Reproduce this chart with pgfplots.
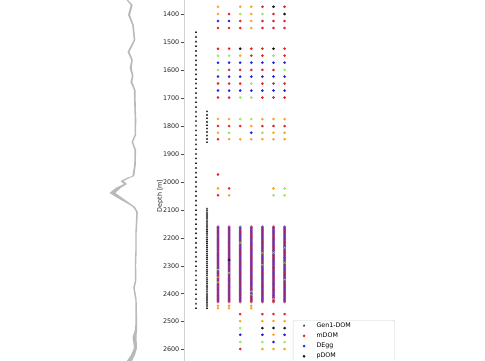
\documentclass[border=0pt]{standalone}
\usepackage{pgfplots}
\pgfplotsset{compat=1.18}
\usepackage{pgfplotstable}
\usepackage{fontspec}
\setmainfont{DejaVu Sans}
\definecolor{mred}{RGB}{228,32,32}
\definecolor{mblue}{RGB}{30,30,230}
\definecolor{morange}{RGB}{245,165,40}
\definecolor{mgreen}{RGB}{150,232,90}
\definecolor{mblack}{RGB}{20,20,20}
\definecolor{dust}{RGB}{185,185,185}
\definecolor{spine}{RGB}{210,210,210}

\pgfplotstableread{
d c1 c2 c3 c4 c5 c6 c7
2160 r r g r r r r
2163 b b b b b b b
2166 r r r r r r r
2169 b b b b b b b
2172 r r r r r r r
2175 b b b b b b b
2178 r r r r r r r
2181 b b b b b b b
2184 r r r r r r r
2187 b b b b b b b
2190 r r r r r r r
2193 b b b b b b b
2196 r r r r r r r
2199 b b b b b b b
2202 r r r r r r r
2205 b b b b b b b
2208 r r r r r r r
2211 b b b b b b b
2214 r r r r r r r
2217 b b b b b b b
2220 r r g r r r r
2223 b b b b b b b
2226 r r r r r r r
2229 b b b b b b b
2232 r r r r r r r
2235 b b b b b b b
2238 r r r r r r g
2241 b b b b b b b
2244 r r r r r r r
2247 b b b b b b b
2250 r r r r r r r
2253 b b b b b b b
2256 r r r r g g r
2259 b b b b b b b
2262 r r r r r r r
2265 b b b b b b b
2268 r r r r r r r
2271 b b b b b b b
2274 r r r r r r r
2277 b b b b b b b
2280 r k r r r r r
2283 b b b b b b b
2286 r r r r r r r
2289 b b b b b b b
2292 r r r r r r g
2295 b b b b b b b
2298 r r r r g r r
2301 b b b b b b b
2304 r r r r r r r
2307 b b b b b b b
2310 r r r r r r r
2313 b b b b b b b
2316 g r r r r r r
2319 b b b b b b b
2322 r r r r r r r
2325 b b b b b b b
2328 r g r r r r r
2331 b b b b b b b
2334 r r r r r r r
2337 b b b b b b b
2340 r r r r r r r
2343 o b b b b b b
2346 r r r r r r r
2349 b b b b b b b
2352 r r r r r r g
2355 b b b b b b b
2358 r r r r r r r
2361 g b b b b b b
2364 r r r r r r r
2367 b b b b b b b
2370 r r r r r r r
2373 b b b b b b b
2376 r r r r r r r
2379 b b b b b b b
2382 r r r r r r r
2385 b b b b b b b
2388 r r r r r r r
2391 b b b b b b b
2394 r r r g r r r
2397 b b b b b b b
2400 r r r r r r r
2403 b b b b b b b
2406 r r r o r r r
2409 b b b b b b b
2412 r r r r r r r
2415 b b b b b b b
2418 r r r r r r r
2421 b b b b b g b
2424 r r r r r r r
2427 b b b b b b b
2430 r r r r r r r
}\upg

\begin{document}
\begin{tikzpicture}
\useasboundingbox (0,0) rectangle (485pt,360pt);
\clip (0,0) rectangle (485pt,360pt);
% dust log panel
\begin{axis}[at={(80pt,-17.52pt)}, anchor=south west, scale only axis,
  width=80pt, height=391.16pt, xmin=80, xmax=160, ymin=1300, ymax=2700,
  y dir=reverse, hide axis]
\addplot[draw=none, fill=dust] coordinates {
(125.2,1330.9)(126.5,1348.8)(130.7,1366.7)(128,1402.5)(132.2,1438.3)(133.7,1492)
(127.5,1534.9)(131.2,1563.5)(129.7,1592.2)(131.9,1620.8)(130.3,1642.3)(133.9,1670.9)
(134.2,1724.6)(134.7,1778.3)(134.5,1832)(131.5,1857)(134.5,1885.7)(134.2,1939.3)
(132.3,1978.7)(126.5,1985.9)(120.5,1996.6)(124,2007.3)(115.5,2021.7)(109.5,2039.5)
(117.5,2057.4)(126.5,2075.3)(133,2089.6)(136.2,2107.5)(135.9,2136.2)(135.3,2182.7)
(135.3,2243.6)(134.8,2297.2)(135,2351)(133.2,2379.5)(135.3,2422.5)(135.5,2494.1)
(135,2529.9)(132.5,2554.9)(134,2594.3)(131,2619.3)(127.5,2637.2)(124.5,2658.8)
(129.5,2658.8)(132.5,2637.2)(135,2619.3)(137,2594.3)(136.5,2554.9)(137,2529.9)
(137.1,2494.1)(136.7,2422.5)(134.8,2379.5)(136.4,2351)(136.2,2297.2)(136.7,2243.6)
(136.7,2182.7)(137.5,2136.2)(137.8,2107.5)(135,2089.6)(129.5,2075.3)(122.5,2057.4)
(115.5,2039.5)(120.5,2021.7)(127,2007.3)(123.5,1996.6)(129.5,1985.9)(134.3,1978.7)
(135.8,1939.3)(136.1,1885.7)(133.1,1857)(136.1,1832)(136.3,1778.3)(135.8,1724.6)
(135.5,1670.9)(132.3,1642.3)(133.5,1620.8)(131.7,1592.2)(132.8,1563.5)(129.5,1534.9)
(135.3,1492)(133.8,1438.3)(130,1402.5)(132.7,1366.7)(128.1,1348.8)(126.8,1330.9)
};
\end{axis}
% main panel
\begin{axis}[at={(184pt,-17.52pt)}, anchor=south west, scale only axis,
  width=216pt, height=391.16pt, xmin=184, xmax=400, ymin=1300, ymax=2700,
  y dir=reverse,
  axis x line=none, axis y line*=left,
  axis line style={draw=spine, line width=0.6pt},
  ytick={1400,1500,...,2600},
  tick align=outside, major tick length=3.5pt,
  ytick style={draw=black!70, line width=0.5pt},
  yticklabel style={font=\fontsize{6.4}{7}\selectfont, text=black!85, inner xsep=1pt},
  /pgf/number format/assume math mode=true,
  /pgf/number format/set thousands separator={},
  ylabel={Depth [m]},
  ylabel style={font=\fontsize{6.4}{7}\selectfont, text=black!85, at={(axis description cs:-0.1111,0.4641)}, anchor=center},
  legend cell align=left,
  legend image code/.code={\path (0pt,0pt) (19pt,0pt); \draw[#1] plot coordinates {(7.7pt,0pt)};},
  legend style={at={(axis description cs:0.5046,0.147)}, anchor=north west,
    draw=spine, rounded corners=2pt, fill=white,
    font=\fontsize{6.3}{7}\selectfont, inner xsep=3pt, inner ysep=1.5pt, row sep=2.3pt,
    nodes={inner sep=1pt, text height=4.6pt, text depth=1.3pt}},
  clip=false
]
% Gen1 DOMs
\addplot[only marks, mark=triangle*, mark size=0.9pt, draw=black!85, fill=black!85] coordinates {
(196,1464)(196,1481)(196,1498)(196,1514)(196,1531)(196,1548)(196,1565)(196,1581)(196,1598)(196,1615)
(196,1632)(196,1648)(196,1665)(196,1682)(196,1699)(196,1715)(196,1732)(196,1749)(196,1766)(196,1782)
(196,1799)(196,1816)(196,1833)(196,1849)(196,1866)(196,1883)(196,1900)(196,1916)(196,1933)(196,1950)
(196,1967)(196,1983)(196,2000)(196,2017)(196,2034)(196,2050)(196,2067)(196,2084)(196,2101)(196,2117)
(196,2134)(196,2151)(196,2168)(196,2184)(196,2201)(196,2218)(196,2235)(196,2251)(196,2268)(196,2285)
(196,2302)(196,2318)(196,2335)(196,2352)(196,2369)(196,2385)(196,2402)(196,2419)(196,2436)(196,2452)
(207,1748)(207,1760)(207,1772)(207,1785)(207,1797)(207,1809)(207,1821)(207,1834)(207,1846)(207,1858)
(207,2096)(207,2103)(207,2111)(207,2118)(207,2125)(207,2132)(207,2140)(207,2147)(207,2154)(207,2161)
(207,2169)(207,2176)(207,2183)(207,2190)(207,2198)(207,2205)(207,2212)(207,2219)(207,2227)(207,2234)
(207,2241)(207,2248)(207,2256)(207,2263)(207,2270)(207,2277)(207,2285)(207,2292)(207,2299)(207,2306)
(207,2314)(207,2321)(207,2328)(207,2335)(207,2343)(207,2350)(207,2357)(207,2364)(207,2372)(207,2379)
(207,2386)(207,2393)(207,2401)(207,2408)(207,2415)(207,2422)(207,2430)(207,2437)(207,2444)(207,2452)
};
\addlegendentry{Gen1-DOM}
% mDOM
\addplot[only marks, mark=*, mark size=1.1pt, draw=mred, fill=mred] coordinates {
(262.4,1373)(284.6,1373)
(229.1,1399)(273.5,1399)
(240.2,1424)(262.4,1424)(273.5,1424)(284.6,1424)
(218,1449)(229.1,1449)(240.2,1449)(262.4,1449)(273.5,1449)(284.6,1449)
(218,1523)(229.1,1523)(251.3,1523)(262.4,1523)(284.6,1523)
(251.3,1548)(262.4,1548)(284.6,1548)
(229.1,1599)(240.2,1599)(251.3,1599)(262.4,1599)(273.5,1599)
(218,1648)(229.1,1648)(240.2,1648)(262.4,1648)(273.5,1648)(284.6,1648)
(218,1698)(229.1,1698)(262.4,1698)(273.5,1698)(284.6,1698)
(218,1800)(229.1,1800)(240.2,1800)(262.4,1800)(273.5,1800)(284.6,1800)
(218,1847)(218,1973)(229.1,2023)(218,2048)
(240.2,2473)(262.4,2473)(273.5,2473)(284.6,2473)
(240.2,2598)
};
\addlegendentry{mDOM}
% DEgg
\addplot[only marks, mark=*, mark size=1.1pt, draw=mblue, fill=mblue] coordinates {
(218,1424)(229.1,1424)
(218,1573)(229.1,1573)(240.2,1573)(251.3,1573)(262.4,1573)(273.5,1573)(284.6,1573)
(218,1623)(229.1,1623)(240.2,1623)(251.3,1623)(262.4,1623)(273.5,1623)(284.6,1623)
(218,1673)(229.1,1673)(240.2,1673)(251.3,1673)(262.4,1673)(273.5,1673)(284.6,1673)
(251.3,1824)
(240.2,2547)(262.4,2547)(284.6,2547)
(273.5,2573)
};
\addlegendentry{DEgg}
% pDOM
\addplot[only marks, mark=*, mark size=1.1pt, draw=mblack, fill=mblack] coordinates {
(273.5,1373)(284.6,1399)(240.2,1523)(273.5,1523)(262.4,2523)(273.5,2523)(284.6,2523)
};
\addlegendentry{pDOM}
% orange
\addplot[only marks, mark=*, mark size=1.1pt, draw=morange, fill=morange] coordinates {
(218,1373)(240.2,1373)(251.3,1373)
(218,1399)(251.3,1399)
(251.3,1424)(251.3,1449)
(240.2,1548)
(218,1775)(229.1,1775)(262.4,1775)(273.5,1775)(284.6,1775)
(251.3,1800)
(218,1824)(273.5,1824)(284.6,1824)
(229.1,1847)(240.2,1847)(251.3,1847)(262.4,1847)(273.5,1847)(284.6,1847)
(218,2023)(273.5,2023)
(229.1,2048)
(218,2443)(218,2452)(229.1,2443)(229.1,2452)(251.3,2443)(251.3,2452)
(240.2,2498)(262.4,2498)(273.5,2498)(284.6,2498)
(273.5,2547)
(262.4,2598)(273.5,2598)(284.6,2598)
};
\addlegendentry{Calibration instruments}
% light green
\addplot[only marks, mark=*, mark size=1.1pt, draw=mgreen, fill=mgreen] coordinates {
(240.2,1399)(262.4,1399)
(218,1548)(229.1,1548)(273.5,1548)
(218,1599)(284.6,1599)
(251.3,1648)
(240.2,1698)(251.3,1698)
(240.2,1775)(251.3,1775)
(229.1,1824)(262.4,1824)
(284.6,2023)
(273.5,2048)(284.6,2048)
(240.2,2523)
(240.2,2573)(262.4,2573)(284.6,2573)
};
\addlegendentry{Other sensor}
% dense strings
\pgfplotsset{strs/.style={scatter, only marks, mark=*, mark size=1.25pt, forget plot,
  scatter src=explicit symbolic,
  scatter/classes={r={draw=mred,fill=mred,opacity=0.5}, b={draw=mblue,fill=mblue,opacity=0.5},
    g={draw=mgreen,fill=mgreen}, o={draw=morange,fill=morange}, k={draw=mblack,fill=mblack}}}}
\addplot[strs] table[x expr=218, y=d, meta=c1] {\upg};
\addplot[strs] table[x expr=229.1, y=d, meta=c2] {\upg};
\addplot[strs] table[x expr=240.2, y=d, meta=c3] {\upg};
\addplot[strs] table[x expr=251.3, y=d, meta=c4] {\upg};
\addplot[strs] table[x expr=262.4, y=d, meta=c5] {\upg};
\addplot[strs] table[x expr=273.5, y=d, meta=c6] {\upg};
\addplot[strs] table[x expr=284.6, y=d, meta=c7] {\upg};
\end{axis}
\end{tikzpicture}
\end{document}
